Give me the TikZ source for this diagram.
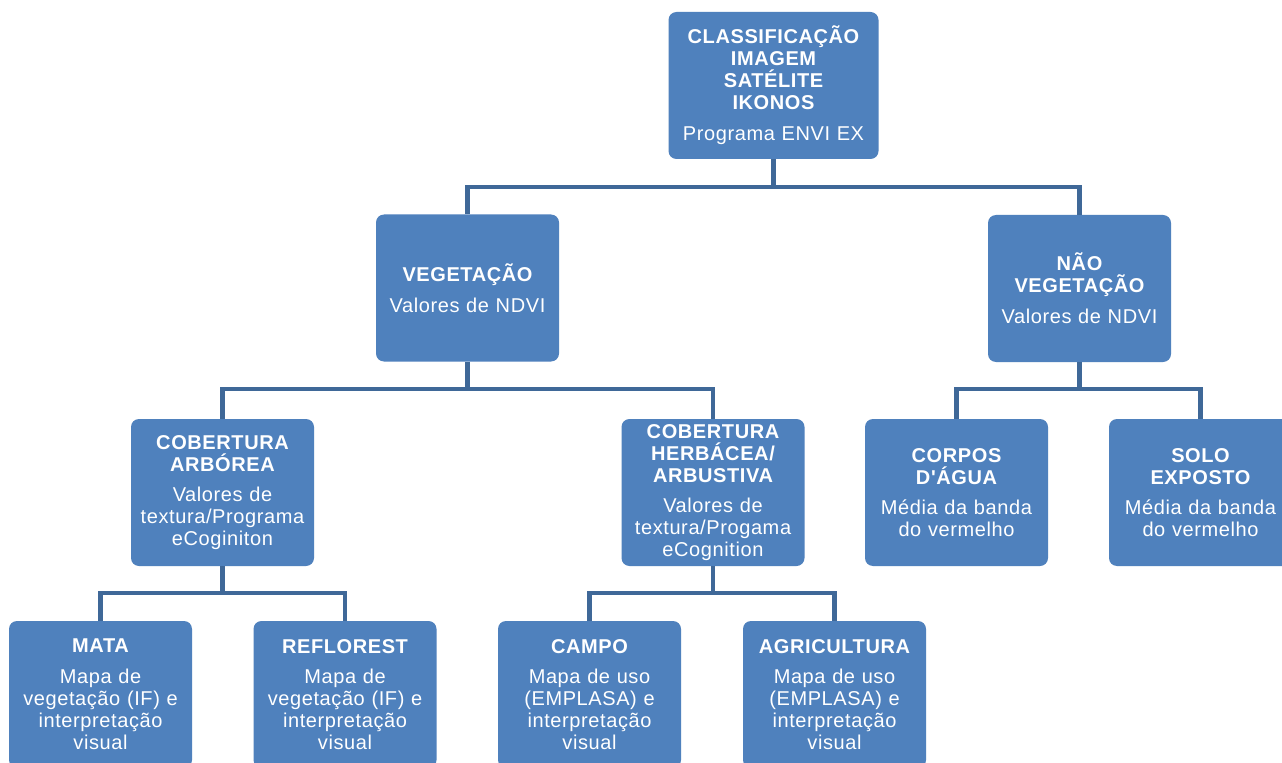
\documentclass[tikz,border=0pt]{standalone}
\usepackage{fontspec}
\setmainfont{Liberation Sans}[LetterSpace=3,Ligatures=TeXOff]
\definecolor{boxblue}{HTML}{4F81BD}
\definecolor{linecol}{HTML}{3F6898}
\begin{document}
\begin{tikzpicture}[x=0.75pt,y=-0.75pt,
  box/.style={fill=boxblue, draw=none, rounded corners=6pt, text=white,
    minimum width=137.25pt, minimum height=110.25pt, text width=134pt,
    inner sep=0pt, align=center, font=\fontsize{15}{16.5}\selectfont},
  wbox/.style={box, minimum width=157.5pt, text width=154pt},
  conn/.style={draw=linecol, line width=3.5pt}]
\useasboundingbox (0,0) rectangle (1282,763);
\clip (0,0) rectangle (1282,763);
\fill[white] (0,0) rectangle (1282,763);
\coordinate (h1) at (0,187);
\coordinate (h2) at (0,389);
\coordinate (h3) at (0,593);
% connectors (drawn first, under the boxes)
\begin{scope}[overlay]
\end{scope}
\node[wbox] (top) at (773.5,85.5) {\bfseries CLASSIFICAÇÃO\\IMAGEM\\SATÉLITE\\IKONOS\\[6.5pt]\mdseries Programa ENVI EX};
\node[box] (veg) at (467.5,288) {\bfseries VEGETAÇÃO\\[6.5pt]\mdseries Valores de NDVI};
\node[box] (nveg) at (1079.5,288.5) {\bfseries NÃO\\VEGETAÇÃO\\[6.5pt]\mdseries Valores de NDVI};
\node[box] (arb) at (222.5,492.5) {\bfseries COBERTURA\\ARBÓREA\\[6.5pt]\mdseries Valores de\\textura/Programa\\eCoginiton};
\node[box] (herb) at (713,492.5) {\bfseries COBERTURA\\HERBÁCEA/\\ARBUSTIVA\\[6.5pt]\mdseries Valores de\\textura/Progama\\eCognition};
\node[box] (corpos) at (956.5,492.5) {\bfseries CORPOS\\D'ÁGUA\\[6.5pt]\mdseries Média da banda\\do vermelho};
\node[box] (solo) at (1200.5,492.5) {\bfseries SOLO\\EXPOSTO\\[6.5pt]\mdseries Média da banda\\do vermelho};
\node[box] (mata) at (100.5,694.5) {\bfseries MATA\\[6.5pt]\mdseries Mapa de\\vegetação (IF) e\\interpretação\\visual};
\node[box] (reflo) at (345,694.5) {\bfseries REFLOREST\\[6.5pt]\mdseries Mapa de\\vegetação (IF) e\\interpretação\\visual};
\node[box] (campo) at (589.5,694.5) {\bfseries CAMPO\\[6.5pt]\mdseries Mapa de uso\\(EMPLASA) e\\interpretação\\visual};
\node[box] (agri) at (834.5,694.5) {\bfseries AGRICULTURA\\[6.5pt]\mdseries Mapa de uso\\(EMPLASA) e\\interpretação\\visual};
\draw[conn] (top.south) -- (top.south |- h1) -| (veg.north);
\draw[conn] (top.south |- h1) -| (nveg.north);
\draw[conn] (veg.south) -- (veg.south |- h2) -| (arb.north);
\draw[conn] (veg.south |- h2) -| (herb.north);
\draw[conn] (nveg.south) -- (nveg.south |- h2) -| (corpos.north);
\draw[conn] (nveg.south |- h2) -| (solo.north);
\draw[conn] (arb.south) -- (arb.south |- h3) -| (mata.north);
\draw[conn] (arb.south |- h3) -| (reflo.north);
\draw[conn] (herb.south) -- (herb.south |- h3) -| (campo.north);
\draw[conn] (herb.south |- h3) -| (agri.north);
\end{tikzpicture}
\end{document}
